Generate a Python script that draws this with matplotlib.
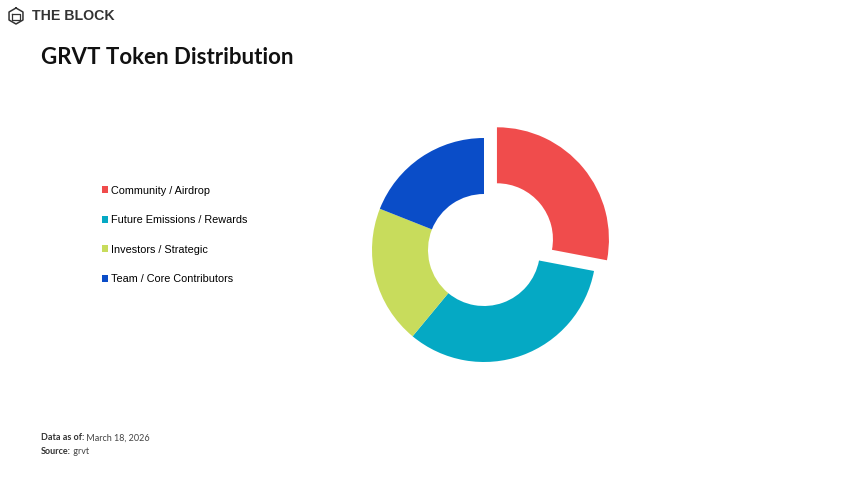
import matplotlib.pyplot as plt
from matplotlib.patches import Patch
import matplotlib.lines as mlines

# Token distribution (percent)
categories = ["Community / Airdrop", "Future Emissions / Rewards",
              "Investors / Strategic", "Team / Core Contributors"]
shares = [28, 33, 20, 19]
colors = ["#F04C4C", "#05A9C4", "#C8DC5C", "#0A4DC8"]

title = "GRVT Token Distribution"
data_date = "March 18, 2026"
source = "grvt"

plt.rcParams["font.family"] = ["Lato", "DejaVu Sans"]

W, H = 860, 484
fig = plt.figure(figsize=(W / 100, H / 100), dpi=100)

# donut: centre (484, 250) px, outer radius 112 px
size = 300
ax = fig.add_axes([(484 - size / 2) / W, 1 - (250 + size / 2) / H, size / W, size / H])
ax.pie(shares, colors=colors, startangle=90, counterclock=False,
       explode=[0.15, 0, 0, 0], radius=1,
       wedgeprops=dict(width=0.5, linewidth=0))
lim = size / 2 / 112
ax.set_xlim(-lim, lim)
ax.set_ylim(-lim, lim)
ax.set_aspect("equal")
ax.axis("off")

# legend on the left
handles = [Patch(facecolor=c, edgecolor="none") for c in colors]
fig.legend(handles, categories, loc="upper left",
           bbox_to_anchor=(92 / W, 1 - 176 / H), frameon=False,
           handlelength=0.6, handleheight=0.6,
           handletextpad=0.25, labelspacing=1.8,
           prop={"family": ["Liberation Sans", "DejaVu Sans"], "size": 7.8})

# header
fig.text(41 / W, 1 - 58 / H, title, fontsize=16, fontweight="bold",
         color="#111111", va="center", ha="left")
fig.text(32 / W, 1 - 16 / H, "THE BLOCK", fontsize=10.2, fontweight="bold",
         color="#333333", va="center", ha="left",
         family=["Liberation Sans", "DejaVu Sans"])

# small cube logo
cx, cy, s = 16, 16, 8
def px(x, y):
    return x / W, 1 - y / H
hexpts = [(cx, cy - s), (cx + s * 0.87, cy - s / 2), (cx + s * 0.87, cy + s / 2),
          (cx, cy + s), (cx - s * 0.87, cy + s / 2), (cx - s * 0.87, cy - s / 2),
          (cx, cy - s)]
xs, ys = zip(*[px(x, y) for x, y in hexpts])
fig.add_artist(mlines.Line2D(xs, ys, color="#333333", lw=1.1, transform=fig.transFigure))
inner = [(cx - s * 0.45, cy - s * 0.3), (cx + s * 0.45, cy - s * 0.3),
         (cx + s * 0.45, cy + s * 0.5), (cx - s * 0.45, cy + s * 0.5),
         (cx - s * 0.45, cy - s * 0.3)]
xs, ys = zip(*[px(x, y) for x, y in inner])
fig.add_artist(mlines.Line2D(xs, ys, color="#333333", lw=0.9, transform=fig.transFigure))

# footer: bold label followed by plain value
renderer = fig.canvas.get_renderer()
for label, value, y in [("Data as of:", " " + data_date, 438), ("Source:", " " + source, 451)]:
    t = fig.text(41 / W, 1 - y / H, label, fontsize=6.5, fontweight="bold",
                 color="#333333", va="center", ha="left")
    bb = t.get_window_extent(renderer=renderer)
    fig.text(bb.x1 / W, 1 - y / H, value, fontsize=6.5,
             color="#444444", va="center", ha="left")

fig.savefig("out.png", dpi=100, facecolor="white")
